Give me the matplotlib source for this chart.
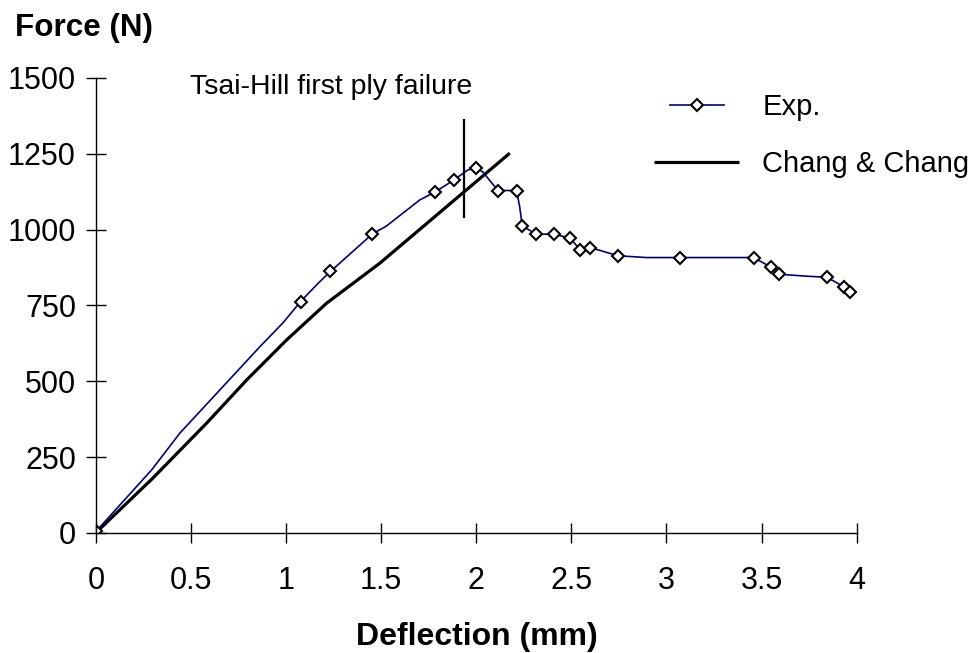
import matplotlib.pyplot as plt

plt.rcParams['font.family'] = ['Liberation Sans', 'DejaVu Sans']

# Experimental curve (deflection mm, force N); only some points carry markers
exp_x = [0, 0.293, 0.441, 0.862, 0.984, 1.076, 1.168, 1.233, 1.454, 1.528, 1.703, 1.781,
         1.883, 1.956, 1.997, 2.033, 2.114, 2.212, 2.228, 2.242, 2.316, 2.408, 2.494,
         2.547, 2.599, 2.745, 2.894, 3.07, 3.459, 3.55, 3.593, 3.725, 3.843, 3.932, 3.966]
exp_y = [5, 208, 329, 614, 693, 763, 823, 862, 986, 1012, 1098, 1123,
         1164, 1197, 1202, 1191, 1129, 1129, 1076, 1012, 985, 985, 972,
         933, 941, 914, 908, 908, 908, 876, 853, 847, 843, 812, 795]
exp_marked = [0, 5, 7, 8, 11, 12, 14, 16, 17, 19, 20, 21, 22, 23, 24, 25, 27, 28, 29, 30, 32, 33, 34]

# Chang & Chang prediction
cc_x = [0, 0.293, 0.582, 0.792, 1.002, 1.212, 1.492, 2.176]
cc_y = [1, 177, 362, 504, 636, 757, 889, 1252]

# Tsai-Hill first ply failure marker
fail_x = 1.935
fail_y = [1042, 1362]

fig = plt.figure(figsize=(9.79, 6.53), dpi=100)
ax = fig.add_axes([0.098, 0.1838, 0.777, 0.6968])

cc_line, = ax.plot(cc_x, cc_y, color='black', lw=2.3, solid_capstyle='butt')
exp_line, = ax.plot(exp_x, exp_y, color='#000080', lw=1.2, marker='D', markersize=6.3,
                    markerfacecolor='white', markeredgecolor='black', markeredgewidth=1.5,
                    markevery=exp_marked)
ax.plot([fail_x, fail_x], fail_y, color='black', lw=1.6)
ax.text(0.494, 1446, 'Tsai-Hill first ply failure', fontsize=20.5, va='baseline')

ax.set_xlim(0, 4)
ax.set_ylim(0, 1500)
ax.set_xticks([0, 0.5, 1, 1.5, 2, 2.5, 3, 3.5, 4])
ax.set_xticklabels(['0', '0.5', '1', '1.5', '2', '2.5', '3', '3.5', '4'])
ax.set_yticks([0, 250, 500, 750, 1000, 1250, 1500])
for s in ['top', 'right']:
    ax.spines[s].set_visible(False)
for s in ['left', 'bottom']:
    ax.spines[s].set_linewidth(1.0)
ax.tick_params(axis='x', direction='inout', length=14.4, width=1.0, pad=16.5, labelsize=22)
ax.tick_params(axis='y', direction='inout', length=14.4, width=1.0, pad=7.2, labelsize=22)

fig.text(0.0153, 0.945, 'Force (N)', fontsize=22.6, fontweight='bold', va='baseline')
fig.text(0.487, 1 - 645 / 653, 'Deflection (mm)', fontsize=23, fontweight='bold',
         ha='center', va='baseline')

leg1 = ax.legend([exp_line], ['Exp.'], loc='center left', bbox_to_anchor=(670 / 979, 1 - 107 / 653),
                 bbox_transform=fig.transFigure, frameon=False, fontsize=21, numpoints=1,
                 handlelength=1.85, handletextpad=1.33, borderpad=0, borderaxespad=0)
ax.add_artist(leg1)
ax.legend([cc_line], ['Chang & Chang'], loc='center left', bbox_to_anchor=(654 / 979, 1 - 164 / 653),
          bbox_transform=fig.transFigure, frameon=False, fontsize=21,
          handlelength=2.93, handletextpad=0.78, borderpad=0, borderaxespad=0)

fig.savefig('out.png', dpi=100)
